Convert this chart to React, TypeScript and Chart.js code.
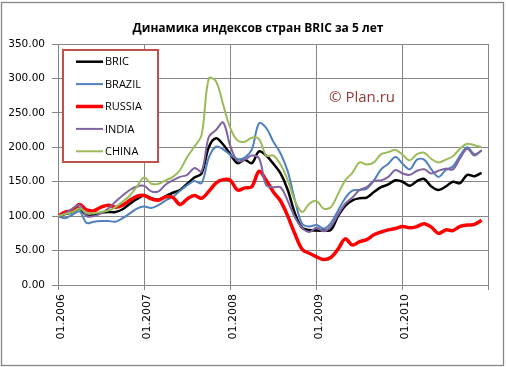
import React, { useEffect, useRef } from "react";
import { Chart, registerables } from "chart.js";

Chart.register(...registerables);

const TITLE = "Динамика индексов стран BRIC за 5 лет";
const WATERMARK = "© Plan.ru";
const yearLabels = ["01.2006", "01.2007", "01.2008", "01.2009", "01.2010"];
const months: string[] = [];
for (let y = 2006; y <= 2010; y++) {
  for (let m = 1; m <= 12; m++) months.push((m < 10 ? "0" : "") + m + "." + y);
}

const BRIC = [
  100, 103, 106, 111, 101, 102, 105, 106, 106, 110, 118, 125,
  130, 126, 124, 129, 134, 138, 147, 156, 162, 200, 213, 204,
  190, 177, 182, 177, 194, 188, 176, 162, 138, 104, 83, 80,
  79, 79, 80, 100, 115, 123, 126, 127, 135, 142, 146, 152,
  150, 144, 151, 154, 143, 138, 143, 150, 148, 160, 158, 163,
];
const BRAZIL = [
  100, 97, 102, 107, 90, 92, 93, 93, 92, 97, 104, 111,
  114, 112, 116, 123, 128, 137, 145, 151, 148, 185, 201, 197,
  189, 183, 185, 197, 235, 228, 208, 191, 165, 123, 89, 85,
  87, 82, 90, 108, 126, 137, 138, 140, 152, 168, 176, 186,
  176, 168, 182, 182, 168, 157, 167, 172, 188, 200, 190, 195,
];
const RUSSIA = [
  100, 106, 108, 117, 109, 108, 113, 116, 113, 116, 123, 129,
  130, 125, 123, 128, 127, 117, 125, 130, 126, 136, 148, 153,
  152, 138, 141, 143, 165, 152, 135, 122, 100, 74, 52, 46,
  41, 37, 40, 52, 67, 58, 63, 66, 73, 77, 80, 82,
  85, 83, 85, 89, 84, 75, 80, 79, 85, 87, 88, 94,
];
const INDIA = [
  100, 104, 111, 116, 100, 100, 104, 111, 121, 130, 138, 143,
  144, 136, 136, 146, 152, 157, 160, 170, 165, 215, 225, 236,
  202, 180, 182, 188, 184, 145, 142, 142, 122, 98, 83, 77,
  83, 78, 85, 102, 118, 127, 138, 142, 151, 152, 157, 167,
  162, 160, 166, 168, 162, 166, 169, 168, 184, 198, 188, 196,
];
const CHINA = [
  100, 103, 106, 111, 105, 104, 106, 108, 113, 121, 130, 143,
  156, 147, 147, 152, 157, 167, 186, 201, 218, 300, 296, 262,
  228, 210, 208, 214, 212, 188, 188, 175, 152, 122, 106, 118,
  122, 111, 113, 132, 152, 163, 178, 175, 178, 190, 193, 196,
  189, 181, 190, 192, 183, 178, 182, 187, 198, 205, 203, 200,
];

const seriesNames = ["BRIC", "BRAZIL", "RUSSIA", "INDIA", "CHINA"];
const seriesValues = [BRIC, BRAZIL, RUSSIA, INDIA, CHINA];
const seriesColors = ["#000000", "#4F81BD", "#FF0000", "#8064A2", "#9BBB59"];
const seriesWidths = [2.5, 2, 3.5, 2, 2];

const GRID = "#868686";

const framePlugin = {
  id: "frame",
  beforeDraw(chart: any) {
    const ctx = chart.ctx;
    ctx.save();
    ctx.fillStyle = "#ffffff";
    ctx.fillRect(0, 0, chart.width, chart.height);
    ctx.restore();
  },
  afterDraw(chart: any) {
    const ctx = chart.ctx;
    const ca = chart.chartArea;
    ctx.save();
    ctx.strokeStyle = GRID;
    ctx.lineWidth = 1.3;
    ctx.strokeRect(1.5, 2.5, 502, 363);
    ctx.fillStyle = "#000";
    ctx.font = "bold 12px 'Open Sans'";
    ctx.textAlign = "center";
    ctx.textBaseline = "middle";
    ctx.fillText(TITLE, 258, 29);
    ctx.fillStyle = "#953735";
    ctx.font = "15px 'Open Sans'";
    ctx.fillText(WATERMARK, ca.left + 304, ca.top + 54);
    const lx = ca.left + 5, ly = ca.top + 6, lw = 95, lh = 112;
    ctx.fillStyle = "#fff";
    ctx.fillRect(lx, ly, lw, lh);
    ctx.strokeStyle = "#C0504D";
    ctx.lineWidth = 2;
    ctx.strokeRect(lx, ly, lw, lh);
    ctx.textAlign = "left";
    ctx.font = "11px 'Open Sans'";
    chart.data.datasets.forEach((ds: any, i: number) => {
      const cy = ly + 11.7 + i * 22.4;
      ctx.strokeStyle = ds.borderColor;
      ctx.lineWidth = ds.borderWidth;
      ctx.beginPath();
      ctx.moveTo(lx + 13, cy);
      ctx.lineTo(lx + 40, cy);
      ctx.stroke();
      ctx.fillStyle = "#000";
      ctx.fillText(ds.label, lx + 42, cy + 0.5);
    });
    ctx.restore();
  },
};

export default function App() {
  const ref = useRef<HTMLCanvasElement>(null);
  useEffect(() => {
    if (!ref.current) return;
    const chart = new Chart(ref.current, {
      type: "line",
      data: {
        datasets: seriesNames.map((name, i) => ({
          label: name,
          data: seriesValues[i].map((v, j) => ({ x: j, y: v })),
          borderColor: seriesColors[i],
          backgroundColor: seriesColors[i],
          borderWidth: seriesWidths[i],
          pointRadius: 0,
          tension: 0.35,
          fill: false,
          order: seriesNames.length - i,
        })),
      },
      options: {
        animation: false,
        responsive: false,
        events: [],
        layout: { padding: { top: 44, right: 13, left: 0, bottom: 0 } },
        plugins: {
          legend: { display: false },
          title: { display: false },
          tooltip: { enabled: false },
        },
        scales: {
          x: {
            type: "linear",
            min: 0,
            max: 60,
            afterFit: (s: any) => { s.height = 82; },
            grid: { color: GRID, lineWidth: 1, tickLength: 5, drawTicks: true, tickColor: GRID },
            border: { display: true, color: GRID, width: 1 },
            ticks: {
              stepSize: 12,
              autoSkip: false,
              minRotation: 90,
              maxRotation: 90,
              padding: 4,
              labelOffset: 3,
              color: "#000",
              font: { family: "'DejaVu Sans'", size: 11 },
              callback: (v: any) => {
                const idx = Math.round(Number(v) / 12);
                return idx < yearLabels.length ? yearLabels[idx] : "";
              },
            },
          },
          y: {
            type: "linear",
            min: 0,
            max: 350,
            afterFit: (s: any) => { s.width = 58; },
            grid: { color: GRID, lineWidth: 1, tickLength: 6, drawTicks: true, tickColor: GRID },
            border: { display: true, color: GRID, width: 1 },
            ticks: {
              stepSize: 50,
              padding: 7,
              color: "#000",
              font: { family: "'DejaVu Sans'", size: 10.5 },
              callback: (v: any) => Number(v).toFixed(2),
            },
          },
        },
      },
      plugins: [framePlugin],
    });
    return () => chart.destroy();
  }, []);
  return (
    <div style={{ position: "absolute", left: 0, top: 0, width: 506, height: 367 }}>
      <canvas ref={ref} width={506} height={367} />
    </div>
  );
}
